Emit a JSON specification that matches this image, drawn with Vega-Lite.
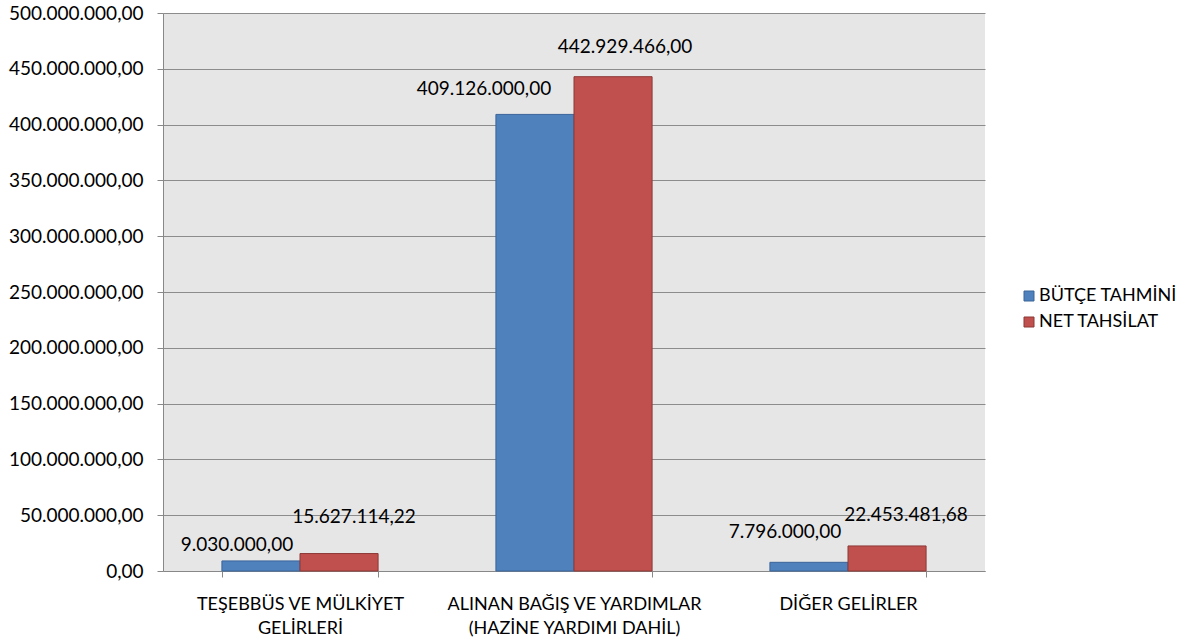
{
  "$schema": "https://vega.github.io/schema/vega-lite/v6.json",
  "width": 822,
  "height": 558,
  "autosize": "none",
  "padding": {"left": 163, "top": 13, "right": 207, "bottom": 67},
  "background": "white",
  "config": {
    "locale": {"number": {"decimal": ",", "thousands": ".", "grouping": [3], "currency": ["", ""]}},
    "view": {"fill": "#e6e6e6", "stroke": null},
    "font": "Lato",
    "axis": {"labelFont": "Lato", "labelFontSize": 19, "labelColor": "#000000", "domainColor": "#888888", "tickColor": "#888888", "gridColor": "#8c8c8c", "title": null, "labelLimit": 0}
  },
  "data": {"values": [
    {"cat": "TEŞEBBÜS VE MÜLKİYET GELİRLERİ", "series": "BÜTÇE TAHMİNİ", "value": 9030000.00},
    {"cat": "TEŞEBBÜS VE MÜLKİYET GELİRLERİ", "series": "NET TAHSİLAT", "value": 15627114.22},
    {"cat": "ALINAN BAĞIŞ VE YARDIMLAR (HAZİNE YARDIMI DAHİL)", "series": "BÜTÇE TAHMİNİ", "value": 409126000.00},
    {"cat": "ALINAN BAĞIŞ VE YARDIMLAR (HAZİNE YARDIMI DAHİL)", "series": "NET TAHSİLAT", "value": 442929466.00},
    {"cat": "DİĞER GELİRLER", "series": "BÜTÇE TAHMİNİ", "value": 7796000.00},
    {"cat": "DİĞER GELİRLER", "series": "NET TAHSİLAT", "value": 22453481.68}
  ]},
  "encoding": {
    "x": {"field": "cat", "type": "nominal", "sort": null,
      "scale": {"paddingInner": 0.43, "paddingOuter": 0.215},
      "axis": {"labelAngle": 0, "tickBand": "extent", "tickSize": 6, "labelPadding": 18, "labelLimit": 0, "labelFontSize": 18,
        "labelExpr": "datum.value == 'TEŞEBBÜS VE MÜLKİYET GELİRLERİ' ? ['TEŞEBBÜS VE MÜLKİYET', 'GELİRLERİ'] : datum.value == 'ALINAN BAĞIŞ VE YARDIMLAR (HAZİNE YARDIMI DAHİL)' ? ['ALINAN BAĞIŞ VE YARDIMLAR', '(HAZİNE YARDIMI DAHİL)'] : datum.value",
        "labelLineHeight": 24}},
    "xOffset": {"field": "series", "type": "nominal", "scale": {"domain": ["BÜTÇE TAHMİNİ", "NET TAHSİLAT"], "paddingInner": 0, "paddingOuter": 0}},
    "y": {"field": "value", "type": "quantitative",
      "scale": {"domain": [0, 500000000], "nice": false},
      "axis": {"values": [0, 50000000, 100000000, 150000000, 200000000, 250000000, 300000000, 350000000, 400000000, 450000000, 500000000],
        "format": ",.2f", "tickSize": 6, "labelPadding": 14, "grid": true}}
  },
  "layer": [
    {
      "mark": {"type": "bar", "strokeWidth": 1},
      "encoding": {
        "color": {"field": "series", "type": "nominal", "scale": {"domain": ["BÜTÇE TAHMİNİ", "NET TAHSİLAT"], "range": ["#4f81bd", "#c0504d"]},
          "legend": {"title": null, "orient": "none", "legendX": 857, "legendY": 274, "symbolType": "square", "symbolSize": 100, "symbolStrokeWidth": 1, "labelFont": "Lato", "labelFontSize": 18, "labelColor": "#000000", "rowPadding": 8, "labelOffset": 1}},
        "stroke": {"field": "series", "type": "nominal", "scale": {"domain": ["BÜTÇE TAHMİNİ", "NET TAHSİLAT"], "range": ["#3a649a", "#8c3836"]}}
      }
    },
    {"transform": [{"filter": "datum.cat == 'TEŞEBBÜS VE MÜLKİYET GELİRLERİ' && datum.series == 'BÜTÇE TAHMİNİ'"}],
     "mark": {"type": "text", "fontSize": 19, "font": "Lato", "color": "#000000", "baseline": "middle", "dx": -24, "dy": -16},
     "encoding": {"text": {"field": "value", "type": "quantitative", "format": ",.2f"}}},
    {"transform": [{"filter": "datum.cat == 'TEŞEBBÜS VE MÜLKİYET GELİRLERİ' && datum.series == 'NET TAHSİLAT'"}],
     "mark": {"type": "text", "fontSize": 19, "font": "Lato", "color": "#000000", "baseline": "middle", "dx": 15, "dy": -37},
     "encoding": {"text": {"field": "value", "type": "quantitative", "format": ",.2f"}}},
    {"transform": [{"filter": "datum.cat == 'ALINAN BAĞIŞ VE YARDIMLAR (HAZİNE YARDIMI DAHİL)' && datum.series == 'BÜTÇE TAHMİNİ'"}],
     "mark": {"type": "text", "fontSize": 19, "font": "Lato", "color": "#000000", "baseline": "middle", "dx": -51, "dy": -25},
     "encoding": {"text": {"field": "value", "type": "quantitative", "format": ",.2f"}}},
    {"transform": [{"filter": "datum.cat == 'ALINAN BAĞIŞ VE YARDIMLAR (HAZİNE YARDIMI DAHİL)' && datum.series == 'NET TAHSİLAT'"}],
     "mark": {"type": "text", "fontSize": 19, "font": "Lato", "color": "#000000", "baseline": "middle", "dx": 12, "dy": -30},
     "encoding": {"text": {"field": "value", "type": "quantitative", "format": ",.2f"}}},
    {"transform": [{"filter": "datum.cat == 'DİĞER GELİRLER' && datum.series == 'BÜTÇE TAHMİNİ'"}],
     "mark": {"type": "text", "fontSize": 19, "font": "Lato", "color": "#000000", "baseline": "middle", "dx": -24, "dy": -30},
     "encoding": {"text": {"field": "value", "type": "quantitative", "format": ",.2f"}}},
    {"transform": [{"filter": "datum.cat == 'DİĞER GELİRLER' && datum.series == 'NET TAHSİLAT'"}],
     "mark": {"type": "text", "fontSize": 19, "font": "Lato", "color": "#000000", "baseline": "middle", "dx": 19, "dy": -31},
     "encoding": {"text": {"field": "value", "type": "quantitative", "format": ",.2f"}}}
  ]
}
